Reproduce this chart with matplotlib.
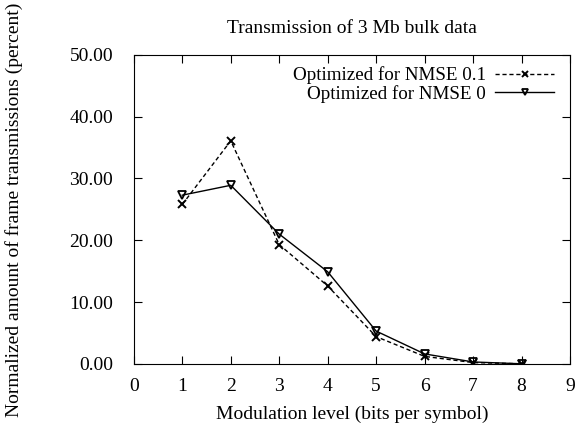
import matplotlib
matplotlib.use("Agg")
import matplotlib.pyplot as plt

x = [1, 2, 3, 4, 5, 6, 7, 8]
nmse01 = [25.8, 36.1, 19.3, 12.6, 4.4, 1.2, 0.2, 0.0]
nmse0 = [27.3, 28.9, 21.0, 14.9, 5.3, 1.6, 0.3, 0.0]
labels = ["Optimized for NMSE 0.1", "Optimized for NMSE 0"]
yticks = [0, 10, 20, 30, 40, 50]
xticks = list(range(0, 10))

plt.rcParams['font.family'] = ['Liberation Serif', 'DejaVu Serif']
fs = 14

fig = plt.figure(figsize=(5.87, 4.26), dpi=100)
ax = fig.add_axes([0.228, 0.146, 0.743, 0.725])
ax.plot(x, nmse01, color='black', linestyle=(0, (3, 2)), linewidth=1,
        marker='x', markersize=6, markeredgewidth=1.4, label=labels[0])
ax.plot(x, nmse0, color='black', linestyle='-', linewidth=1,
        marker='v', markersize=6, markerfacecolor='none', markeredgewidth=1.3, label=labels[1])
ax.set_xlim(0, 9)
ax.set_ylim(0, 50)
ax.set_xticks(xticks)
ax.set_yticks(yticks)
ax.set_yticklabels([f"{v:.2f}" for v in yticks])
ax.tick_params(direction='in', top=True, right=True, length=6, labelsize=fs)
ax.tick_params(axis='y', pad=15)
ax.tick_params(axis='x', pad=10)
ax.set_xlabel("Modulation level (bits per symbol)", fontsize=fs, labelpad=8)
ax.set_ylabel("Normalized amount of frame transmissions (percent)", fontsize=fs, labelpad=33)
ax.set_title("Transmission of 3 Mb bulk data", fontsize=fs, pad=16)
leg = ax.legend(loc='upper right', markerfirst=False, frameon=False, fontsize=13.7,
                handlelength=3.1, borderaxespad=0.2, labelspacing=0.05, handletextpad=0.5,
                bbox_to_anchor=(0.99, 1.0), markerscale=0.7)
fig.savefig("out.png", dpi=100)
